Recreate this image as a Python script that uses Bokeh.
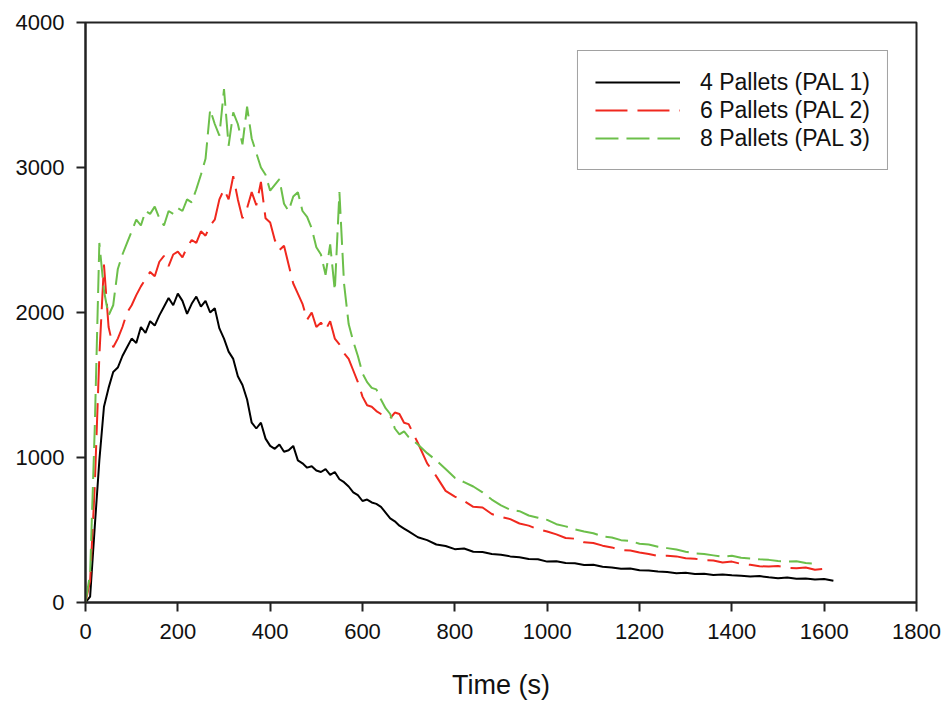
from bokeh.plotting import figure
from bokeh.models import Range1d, FixedTicker, Legend, LegendItem
from bokeh.embed import file_html
from bokeh.resources import INLINE

# ---- data ----
t_early = list(range(0, 710, 10))
t_late = list(range(720, 1640, 20))

pal1_early = [0, 40, 520, 980, 1350, 1480, 1590, 1620, 1700, 1760,
              1820, 1790, 1900, 1860, 1940, 1910, 1980, 2040, 2100, 2050,
              2130, 2080, 1990, 2060, 2110, 2040, 2080, 2000, 2030, 1890,
              1820, 1730, 1680, 1560, 1500, 1400, 1240, 1200, 1240, 1130,
              1080, 1060, 1090, 1040, 1050, 1080, 980, 960, 930, 940,
              910, 900, 920, 880, 900, 850, 830, 800, 760, 740,
              700, 710, 690, 680, 660, 620, 580, 560, 530, 510, 490]
pal1_late = [450, 430, 400, 390, 368, 372, 350, 348, 335, 330,
             318, 312, 300, 298, 282, 285, 272, 270, 258, 260,
             246, 242, 232, 235, 222, 220, 214, 210, 202, 205,
             196, 198, 190, 193, 188, 184, 180, 182, 174, 168,
             172, 163, 166, 158, 162, 150]

pal2_early = [0, 150, 800, 1700, 2330, 1900, 1760, 1820, 1900, 2000,
              2050, 2120, 2180, 2230, 2280, 2250, 2350, 2390, 2320, 2400,
              2420, 2380, 2450, 2500, 2480, 2560, 2530, 2600, 2640, 2780,
              2850, 2780, 2940, 2780, 2650, 2720, 2830, 2740, 2900, 2650,
              2620, 2500, 2430, 2460, 2330, 2200, 2130, 2060, 1950, 2000,
              1900, 1930, 1880, 1940, 1820, 1780, 1720, 1680, 1600, 1520,
              1420, 1360, 1350, 1320, 1300, 1290, 1270, 1310, 1300, 1240, 1230]
pal2_late = [1100, 960, 870, 770, 730, 700, 660, 655, 610, 590,
             575, 545, 530, 505, 490, 470, 445, 440, 415, 410,
             392, 380, 362, 358, 345, 335, 320, 322, 318, 305,
             302, 292, 290, 276, 282, 266, 260, 250, 248, 252,
             240, 236, 242, 226, 232]

pal3_early = [0, 200, 1200, 2480, 2150, 1980, 2050, 2300, 2400, 2480,
              2560, 2640, 2600, 2700, 2680, 2730, 2650, 2600, 2700, 2680,
              2720, 2700, 2780, 2760, 2850, 2950, 3060, 3400, 3300, 3220,
              3540, 3150, 3380, 3300, 3160, 3420, 3200, 3100, 3000, 2950,
              2840, 2880, 2920, 2750, 2700, 2800, 2830, 2700, 2660, 2580,
              2450, 2400, 2260, 2470, 2150, 2830, 2200, 1920, 1800, 1700,
              1580, 1520, 1480, 1470, 1400, 1340, 1300, 1200, 1160, 1180, 1140]
pal3_late = [1090, 1030, 980, 920, 860, 830, 800, 760, 710, 670,
             640, 630, 600, 585, 570, 540, 525, 505, 490, 478,
             455, 448, 430, 425, 405, 400, 385, 375, 365, 350,
             338, 335, 325, 315, 322, 308, 304, 298, 294, 286,
             282, 284, 272, 268]

x_ticks = [0, 200, 400, 600, 800, 1000, 1200, 1400, 1600, 1800]
y_ticks = [0, 1000, 2000, 3000, 4000]

labels = ["4 Pallets (PAL 1)", "6 Pallets (PAL 2)", "8 Pallets (PAL 3)"]

t1 = t_early + t_late
t2 = t_early + t_late[:len(pal2_late)]
t3 = t_early + t_late[:len(pal3_late)]
v1 = pal1_early + pal1_late
v2 = pal2_early + pal2_late
v3 = pal3_early + pal3_late

FONT = "Liberation Sans"

p = figure(width=946, height=702, output_backend="svg", toolbar_location=None,
           x_range=Range1d(0, 1800), y_range=Range1d(0, 4000),
           min_border_left=85, min_border_right=30, min_border_top=22,
           min_border_bottom=98)
p.xgrid.visible = False
p.ygrid.visible = False
p.outline_line_color = "#222222"
p.outline_line_width = 2
p.background_fill_color = "white"
p.border_fill_color = "white"

for ax in (p.xaxis[0], p.yaxis[0]):
    ax.axis_line_width = 2
    ax.axis_line_color = "#222222"
    ax.major_tick_line_width = 2
    ax.major_tick_line_color = "#222222"
    ax.major_tick_out = 9
    ax.major_tick_in = 0
    ax.minor_tick_out = 0
    ax.minor_tick_in = 0
    ax.major_label_text_font = FONT
    ax.major_label_text_font_size = "22px"
    ax.major_label_text_color = "#111111"
    ax.major_label_standoff = 12

p.xaxis.ticker = FixedTicker(ticks=x_ticks)
p.yaxis.ticker = FixedTicker(ticks=y_ticks)
p.xaxis.axis_label = "Time (s)"
p.xaxis.axis_label_text_font = FONT
p.xaxis.axis_label_text_font_size = "27px"
p.xaxis.axis_label_text_font_style = "normal"
p.xaxis.axis_label_text_color = "#111111"
p.xaxis.axis_label_standoff = 28

r1 = p.line(t1, v1, line_color="black", line_width=2)
r2 = p.line(t2, v2, line_color="#f0281e", line_width=2, line_dash="32 10")
r3 = p.line(t3, v3, line_color="#6cbf4a", line_width=2, line_dash="23 8")

legend = Legend(items=[LegendItem(label=labels[0], renderers=[r1]),
                       LegendItem(label=labels[1], renderers=[r2]),
                       LegendItem(label=labels[2], renderers=[r3])],
                location="top_right")
legend.margin = 28
legend.padding = 17
legend.spacing = 0
legend.glyph_width = 85
legend.glyph_height = 28
legend.label_standoff = 20
legend.label_text_font = FONT
legend.label_text_font_size = "23px"
legend.label_text_color = "#111111"
legend.border_line_color = "#444444"
legend.border_line_width = 1.5
legend.background_fill_alpha = 1.0
p.add_layout(legend)

open("out.html", "w").write(file_html(p, INLINE))
